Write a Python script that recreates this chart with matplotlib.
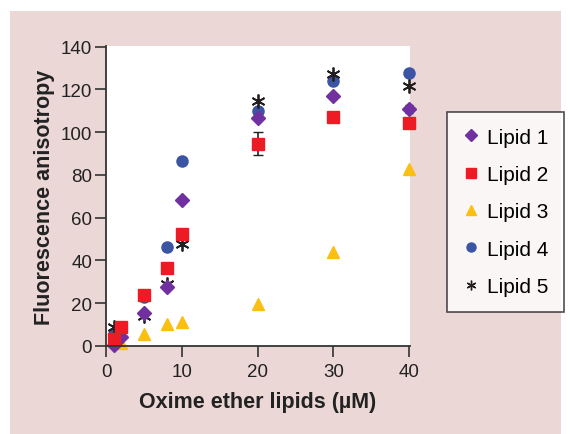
import matplotlib
matplotlib.use("Agg")
import matplotlib.pyplot as plt
from matplotlib.patches import Rectangle
from matplotlib.lines import Line2D

plt.rcParams['font.family'] = ['Liberation Sans', 'DejaVu Sans']

conc = [1, 2, 5, 8, 10, 20, 30, 40]
lipid1 = [0.5, 4, 15.6, 27.8, 68.4, 106.6, 117.1, 110.9]
lipid2 = [3.3, 8.7, 23.9, 36.4, 52.5, 94.5, 107.1, 104.3]
lipid3 = [2.5, 1.4, 5.6, 10.3, 11.4, 19.5, 43.9, 82.6]
lipid4 = [5.6, 8.0, 23.0, 46.2, 86.5, 109.8, 123.8, 127.9]
lipid5 = [9.0, 6.1, 14.2, 29.0, 47.8, 114.4, 127.4, 121.5]
err2 = [0, 0, 0, 0, 0, 5.4, 0, 0]
err1 = [0, 0, 0, 0, 0, 0, 0, 2.0]

labels = ['Lipid 1', 'Lipid 2', 'Lipid 3', 'Lipid 4', 'Lipid 5']
colors = ['#7030a0', '#ed1c24', '#fbbf12', '#3b54a4', '#231f20']
markers = ['D', 's', '^', 'o', (6, 2, 0)]

fig = plt.figure(figsize=(5.7, 4.35), dpi=100)
fig.patch.set_facecolor('white')
fig.patches.append(Rectangle((10/570, 0), 551/570, 1 - 12/435, transform=fig.transFigure,
                             facecolor='#ebd7d6', edgecolor='none', zorder=-10))

ax = fig.add_axes([106/570, 1 - 347/435, 304/570, 300/435])
ax.set_facecolor('white')

ax.errorbar(conc, lipid1, yerr=err1, fmt='D', ms=7.5, color=colors[0], ecolor='#222222',
            elinewidth=1, capsize=3, clip_on=False)
ax.errorbar(conc, lipid2, yerr=err2, fmt='s', ms=9, color=colors[1], ecolor='#222222',
            elinewidth=1.2, capsize=3.5, clip_on=False)
ax.plot(conc, lipid3, '^', ms=8.5, color=colors[2], clip_on=False)
ax.plot(conc, lipid4, 'o', ms=8, color=colors[3], clip_on=False)
ax.plot(conc, lipid5, marker=markers[4], ls='none', ms=10, mew=1.3, color=colors[4],
        clip_on=False)

ax.set_xlim(0, 40.1)
ax.set_ylim(0, 140.3)
ax.set_xticks([0, 10, 20, 30, 40])
ax.set_yticks(range(0, 141, 20))
for s in ['top', 'right']:
    ax.spines[s].set_visible(False)
for s in ['left', 'bottom']:
    ax.spines[s].set_color('#333333')
    ax.spines[s].set_linewidth(1.3)
ax.tick_params(direction='out', length=8, width=1.2, color='#333333',
               labelsize=13.5, labelcolor='#222222')
ax.tick_params(axis='x', pad=4)
ax.tick_params(axis='y', pad=2)

ax.set_xlabel('Oxime ether lipids (µM)', fontsize=15.5, fontweight='bold', color='#222222', labelpad=8)
ax.set_ylabel('Fluorescence anisotropy', fontsize=15.5, fontweight='bold', color='#222222', labelpad=4)

sizes = [6, 7, 7, 6.5, 7]
handles = [Line2D([], [], ls='none', marker=m, color=c, ms=s, mew=1)
           for m, c, s in zip(markers, colors, sizes)]
leg = fig.legend(handles, labels, loc='upper left', bbox_to_anchor=(447/570, 1 - 113/435),
                 fontsize=15, frameon=True, fancybox=False, edgecolor='#222222',
                 handlelength=0.8, handletextpad=0.35, labelspacing=0.88,
                 borderpad=0.75, borderaxespad=0)
leg.get_frame().set_linewidth(1.2)

fig.savefig('out.png', dpi=100)
